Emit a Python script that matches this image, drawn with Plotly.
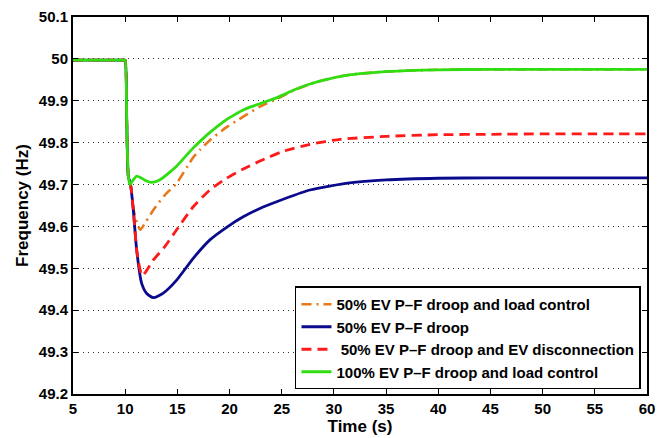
import plotly.graph_objects as go

# ---- data ----
t_orange = [5, 9.9, 10.0, 10.15, 10.3, 10.52, 10.78, 10.94, 11.2, 11.45, 12.0, 12.7, 13.8, 14.93, 16.0, 16.53,
            17.17, 18.12, 19.72, 21.31, 22.91, 24.5, 25.3, 26.1, 27.7, 29.3, 31.5, 34, 37, 40, 45, 50, 55, 60]
f_orange = [49.997, 49.997, 49.997, 49.85, 49.72, 49.699, 49.645, 49.625, 49.605, 49.592, 49.612, 49.639, 49.675,
            49.703, 49.745, 49.765, 49.783, 49.806, 49.837, 49.862, 49.886, 49.904, 49.914, 49.924, 49.94,
            49.951, 49.962, 49.968, 49.972, 49.974, 49.975, 49.975, 49.975, 49.975]

t_blue = [5, 9.9, 10.0, 10.15, 10.3, 10.52, 10.78, 11.1, 11.58, 12.06, 12.7, 13.65, 14.93, 16.52, 18.12, 19.72,
          21.31, 22.91, 24.51, 27.7, 31.5, 35, 40, 45, 50, 55, 60]
f_blue = [49.997, 49.997, 49.997, 49.85, 49.72, 49.699, 49.639, 49.544, 49.464, 49.44, 49.43, 49.441, 49.472,
          49.524, 49.568, 49.598, 49.623, 49.643, 49.659, 49.687, 49.704, 49.711, 49.715, 49.716, 49.716,
          49.716, 49.716]

t_red = [5, 9.9, 10.0, 10.15, 10.3, 10.52, 10.78, 11.1, 11.4, 11.64, 12.7, 13.8, 14.93, 16.52, 18.12, 19.72,
         21.31, 22.91, 25.1, 27.7, 30.6, 35, 40, 45, 50, 55, 60]
f_red = [49.997, 49.997, 49.997, 49.85, 49.72, 49.699, 49.639, 49.544, 49.50, 49.482, 49.52, 49.552, 49.592,
         49.647, 49.687, 49.715, 49.737, 49.756, 49.779, 49.796, 49.808, 49.815, 49.819, 49.82, 49.821,
         49.821, 49.821]

t_green = [5, 9.9, 10.0, 10.15, 10.3, 10.45, 10.8, 11.1, 11.5, 12.0, 12.5, 13.3, 14.1, 14.9, 15.7, 16.5, 17.3,
           18.1, 18.9, 19.7, 20.5, 21.3, 22.1, 22.9, 23.7, 24.5, 25.3, 26.1, 27.7, 29.3, 31.5, 34, 37, 40, 45,
           50, 55, 60]
f_green = [49.997, 49.997, 49.997, 49.85, 49.72, 49.70, 49.712, 49.72, 49.716, 49.709, 49.705, 49.711, 49.726,
           49.743, 49.765, 49.787, 49.806, 49.824, 49.840, 49.855, 49.867, 49.878, 49.886, 49.893, 49.900,
           49.907, 49.916, 49.925, 49.94, 49.951, 49.962, 49.968, 49.972, 49.974, 49.975, 49.975, 49.975,
           49.975]

names = ["50% EV P\u2013F droop and load control",
         "50% EV P\u2013F droop",
         "\u00a050% EV P\u2013F droop and EV disconnection",
         "100% EV P\u2013F droop and load control"]

x_ticks = [5, 10, 15, 20, 25, 30, 35, 40, 45, 50, 55, 60]
y_ticks = [49.2, 49.3, 49.4, 49.5, 49.6, 49.7, 49.8, 49.9, 50.0, 50.1]
y_tick_labels = ["49.2", "49.3", "49.4", "49.5", "49.6", "49.7", "49.8", "49.9", "50", "50.1"]

FONT = "Liberation Sans"

fig = go.Figure()
fig.add_trace(go.Scatter(x=t_orange, y=f_orange, mode="lines", name=names[0],
                         line=dict(color="#E8781A", width=2.6, dash="10px,5px,2px,5px",
                                   shape="spline", smoothing=0.6)))
fig.add_trace(go.Scatter(x=t_blue, y=f_blue, mode="lines", name=names[1],
                         line=dict(color="#0A0A8C", width=2.8, shape="spline", smoothing=0.6)))
fig.add_trace(go.Scatter(x=t_red, y=f_red, mode="lines", name=names[2],
                         line=dict(color="#FF1A1A", width=2.8, dash="10px,6px",
                                   shape="spline", smoothing=0.6)))
fig.add_trace(go.Scatter(x=t_green, y=f_green, mode="lines", name=names[3],
                         line=dict(color="#2FDD10", width=2.8, shape="spline", smoothing=0.6)))

axis_common = dict(showline=True, linecolor="black", linewidth=2, mirror="ticks",
                   ticks="inside", ticklen=5, tickwidth=1, tickcolor="black",
                   tickfont=dict(family=FONT, size=15, color="black", weight="bold"),
                   zeroline=False, automargin=False)

fig.update_layout(
    width=670, height=438,
    margin=dict(l=73, r=23, t=17, b=44),
    paper_bgcolor="white", plot_bgcolor="white",
    font=dict(family=FONT, color="black"),
    showlegend=True,
    legend=dict(x=0.9895, xanchor="right", y=0.012, yanchor="bottom",
                bgcolor="white", bordercolor="black", borderwidth=1.5,
                font=dict(family=FONT, size=15, color="black", weight="bold"),
                tracegroupgap=0),
    xaxis=dict(range=[5, 60], tickvals=x_ticks, showgrid=False,
               title=dict(text="Time (s)", font=dict(family=FONT, size=17, color="black", weight="bold"),
                          standoff=4),
               **axis_common),
    yaxis=dict(range=[49.2, 50.1], tickvals=y_ticks, ticktext=y_tick_labels,
               showgrid=True, gridcolor="#333333", gridwidth=1, griddash="1px,4px",
               title=dict(text="Frequency (Hz)", font=dict(family=FONT, size=17, color="black", weight="bold"),
                          standoff=6),
               **axis_common),
)

fig.write_html("out.html")
